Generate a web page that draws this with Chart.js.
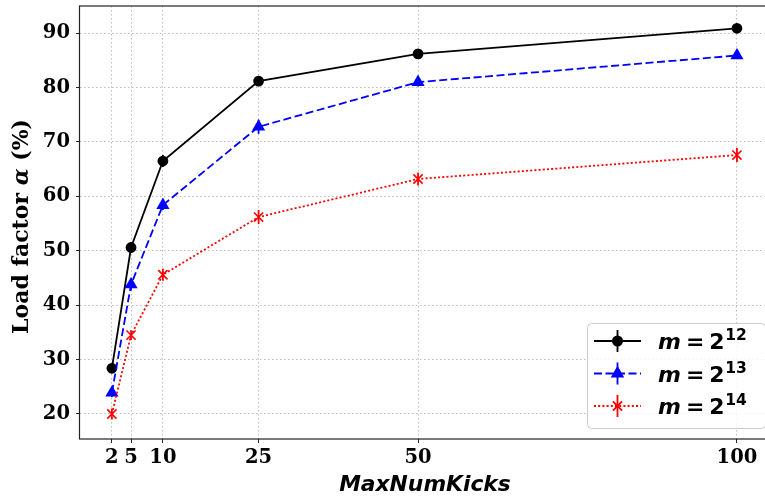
<!DOCTYPE html>
<html>
<head>
<meta charset="utf-8">
<script src="https://cdn.jsdelivr.net/npm/chart.js@4.4.1/dist/chart.umd.min.js"></script>
<style>
  html, body { margin: 0; padding: 0; background: #fff; }
</style>
</head>
<body>
<canvas id="chart" width="765" height="498"></canvas>
<script>
// MaxNumKicks on the x axis
const kicks = [2, 5, 10, 25, 50, 100];

// load factor (%) for each table size, with error bar half-heights
const load12 = [28.4, 50.6, 66.5, 81.2, 86.2, 90.9];
const load13 = [23.9, 43.8, 58.4, 72.8, 81.0, 85.9];
const load14 = [20.0, 34.5, 45.6, 56.2, 63.2, 67.6];
const err12 = [0.6, 1.0, 1.1, 0.5, 0.6, 0.4];
const err13 = [0.8, 1.1, 0.9, 1.3, 0.8, 0.6];
const err14 = [1.0, 0.9, 1.1, 1.3, 1.2, 1.3];

const exponents = ['12', '13', '14'];
const yTicks = [20, 30, 40, 50, 60, 70, 80, 90];

const tickFont = { family: 'DejaVu Serif', weight: 'bold', size: 19.5 };

function toPoints(ys) {
  return kicks.map((x, i) => ({ x: x, y: ys[i] }));
}

const series = [
  { exp: exponents[0], data: load12, err: err12, color: '#000000', dash: [], style: 'circle', radius: 4.6, order: 3 },
  { exp: exponents[1], data: load13, err: err13, color: '#0000ff', dash: [8, 3.5], style: 'triangle', radius: 6, order: 2 },
  { exp: exponents[2], data: load14, err: err14, color: '#ff0000', dash: [2, 2.2], style: 'crossRot', radius: 6.5, order: 1 }
];

// error bars, axis titles, frame and the legend box
const extras = {
  id: 'extras',
  beforeDatasetsDraw(chart) {
    const ctx = chart.ctx;
    const xs = chart.scales.x, ys = chart.scales.y;
    ctx.save();
    series.forEach(s => {
      ctx.strokeStyle = s.color;
      ctx.lineWidth = 1.8;
      s.data.forEach((v, i) => {
        const px = xs.getPixelForValue(kicks[i]);
        ctx.beginPath();
        ctx.moveTo(px, ys.getPixelForValue(v - s.err[i]));
        ctx.lineTo(px, ys.getPixelForValue(v + s.err[i]));
        ctx.stroke();
      });
    });
    ctx.restore();
  },
  afterDraw(chart) {
    const ctx = chart.ctx;
    const a = chart.chartArea;
    ctx.save();

    // frame
    ctx.strokeStyle = '#222';
    ctx.lineWidth = 1.2;
    ctx.strokeRect(a.left - 0.5, a.top, a.right - a.left + 10, a.bottom - a.top);

    // y title: Load factor α (%)
    ctx.save();
    ctx.translate(22, (a.top + a.bottom) / 2 + 4);
    ctx.rotate(-Math.PI / 2);
    ctx.fillStyle = '#000';
    ctx.textBaseline = 'middle';
    const f1 = 'bold 22px "DejaVu Serif"';
    const f2 = 'italic bold 22px "DejaVu Serif"';
    const parts = [['Load factor ', f1], ['\u03b1', f2], [' (%)', f1]];
    let total = 0;
    parts.forEach(p => { ctx.font = p[1]; total += ctx.measureText(p[0]).width; });
    let cx = -total / 2;
    parts.forEach(p => {
      ctx.font = p[1];
      ctx.textAlign = 'left';
      ctx.fillText(p[0], cx, 0);
      cx += ctx.measureText(p[0]).width;
    });
    ctx.restore();

    // x title
    ctx.fillStyle = '#000';
    ctx.font = 'italic bold 21.8px "DejaVu Sans"';
    ctx.textAlign = 'center';
    ctx.textBaseline = 'alphabetic';
    ctx.fillText('MaxNumKicks', 425, 491);

    // legend
    const bx = 587, by = 323, bw = 178, bh = 105;
    ctx.fillStyle = 'rgba(255,255,255,0.85)';
    ctx.strokeStyle = '#cccccc';
    ctx.lineWidth = 1;
    ctx.beginPath();
    ctx.roundRect(bx + 0.5, by + 0.5, bw, bh, 4);
    ctx.fill();
    ctx.stroke();

    series.forEach((s, i) => {
      const ry = 341 + i * 32.5;
      ctx.strokeStyle = s.color;
      ctx.fillStyle = s.color;
      ctx.lineWidth = 1.8;
      ctx.setLineDash(s.dash);
      ctx.beginPath();
      ctx.moveTo(594, ry);
      ctx.lineTo(641, ry);
      ctx.stroke();
      ctx.setLineDash([]);
      ctx.beginPath();
      ctx.moveTo(617.5, ry - 11);
      ctx.lineTo(617.5, ry + 11);
      ctx.stroke();
      Chart.helpers.drawPoint(ctx, {
        pointStyle: s.style, radius: s.radius, borderWidth: 1.6, rotation: 0
      }, 617.5, ry);

      // m = 2^exp
      ctx.fillStyle = '#000';
      ctx.textAlign = 'left';
      ctx.textBaseline = 'alphabetic';
      const base = ry + 8;
      let tx = 658;
      ctx.font = 'italic bold 22px "DejaVu Sans"';
      ctx.fillText('m', tx, base);
      tx += ctx.measureText('m').width + 5;
      ctx.font = 'bold 22px "DejaVu Sans"';
      ctx.fillText('=', tx, base);
      tx += ctx.measureText('=').width + 5;
      ctx.fillText('2', tx, base);
      tx += ctx.measureText('2').width + 0.5;
      ctx.font = 'bold 15.5px "DejaVu Sans"';
      ctx.fillText(s.exp, tx, base - 9);
    });

    ctx.restore();
  }
};

new Chart(document.getElementById('chart'), {
  type: 'line',
  data: {
    datasets: series.map(s => ({
      label: 'm = 2^' + s.exp,
      data: toPoints(s.data),
      borderColor: s.color,
      backgroundColor: s.color,
      borderWidth: 1.8,
      borderDash: s.dash,
      pointStyle: s.style,
      pointRadius: s.radius,
      pointBorderWidth: 1.6,
      pointBackgroundColor: s.color,
      pointBorderColor: s.color,
      tension: 0,
      order: s.order
    }))
  },
  plugins: [extras],
  options: {
    responsive: false,
    devicePixelRatio: 1,
    animation: false,
    layout: { autoPadding: false, padding: { top: 6, right: 0, left: 0, bottom: 0 } },
    plugins: {
      legend: { display: false },
      tooltip: { enabled: false }
    },
    scales: {
      x: {
        type: 'linear',
        min: -3.0,
        max: 104.4,
        afterFit: s => { s.height = 59; s.paddingLeft = 0; s.paddingRight = 0; },
        afterBuildTicks: s => { s.ticks = kicks.map(v => ({ value: v })); },
        border: { display: false, dash: [1.5, 2.5] },
        grid: {
          color: '#bdbdbd', lineWidth: 1, drawTicks: true, tickLength: 4,
          tickColor: '#222', tickWidth: 1, tickBorderDash: []
        },
        ticks: {
          autoSkip: false, maxRotation: 0, padding: 3,
          color: '#000', font: tickFont,
          callback: v => String(v)
        }
      },
      y: {
        type: 'linear',
        min: 15.4,
        max: 95.0,
        afterFit: s => { s.width = 80; s.paddingTop = 0; s.paddingBottom = 0; },
        afterBuildTicks: s => { s.ticks = yTicks.map(v => ({ value: v })); },
        border: { display: false, dash: [1.5, 2.5] },
        grid: {
          color: '#bdbdbd', lineWidth: 1, drawTicks: true, tickLength: 4,
          tickColor: '#222', tickWidth: 1, tickBorderDash: []
        },
        ticks: {
          padding: 6, color: '#000', font: tickFont,
          callback: v => String(v)
        }
      }
    }
  }
});
</script>
</body>
</html>
